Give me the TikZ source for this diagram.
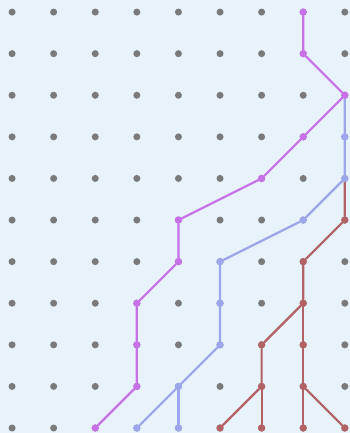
\documentclass[tikz,border=0pt]{standalone}
\usepackage{tikz}
\definecolor{bgblue}{RGB}{231,242,251}
\definecolor{dotgray}{RGB}{122,122,122}
\definecolor{pathviolet}{RGB}{200,112,232}
\definecolor{pathblue}{RGB}{156,166,236}
\definecolor{pathred}{RGB}{178,98,98}

\begin{document}
\begin{tikzpicture}[
    gridpt/.style={circle, fill=dotgray, inner sep=0pt, minimum size=4.8pt},
    walk/.style={line width=1.5pt, line join=round, line cap=round},
  ]

  % Background and frame
  \fill[bgblue] (-0.29,-10.12) rectangle (8.12,0.29);
  \useasboundingbox (-0.29,-10.12) rectangle (8.12,0.29);

  % Grid points
  \foreach \c in {0,...,8} {
    \foreach \r in {0,...,10} {
      \node[gridpt] (g\c-\r) at (\c,-\r) {};
    }
  }

  % Red walk
  \draw[walk, pathred] (g8-4) -- (g8-5) -- (g7-6) -- (g7-7) -- (g6-8) -- (g6-9) -- (g5-10);
  \draw[walk, pathred] (g6-9) -- (g6-10);
  \draw[walk, pathred] (g7-7) -- (g7-8) -- (g7-9) -- (g7-10);
  \draw[walk, pathred] (g7-9) -- (g8-10);
  \foreach \p in {g8-5, g7-6, g7-7, g6-8, g6-9, g5-10, g6-10, g7-8, g7-9, g7-10, g8-10} {
    \fill[pathred] (\p) circle (2.5pt);
  }

  % Blue walk
  \draw[walk, pathblue] (g8-2) -- (g8-3) -- (g8-4) -- (g7-5) -- (g5-6) -- (g5-7) -- (g5-8) -- (g4-9) -- (g3-10);
  \draw[walk, pathblue] (g4-9) -- (g4-10);
  \foreach \p in {g8-3, g8-4, g7-5, g5-6, g5-7, g5-8, g4-9, g3-10, g4-10} {
    \fill[pathblue] (\p) circle (2.5pt);
  }

  % Violet walk
  \draw[walk, pathviolet] (g7-0) -- (g7-1) -- (g8-2) -- (g7-3) -- (g6-4) -- (g4-5) -- (g4-6) -- (g3-7) -- (g3-8) -- (g3-9) -- (g2-10);
  \foreach \p in {g7-0, g7-1, g8-2, g7-3, g6-4, g4-5, g4-6, g3-7, g3-8, g3-9, g2-10} {
    \fill[pathviolet] (\p) circle (2.5pt);
  }

\end{tikzpicture}
\end{document}
